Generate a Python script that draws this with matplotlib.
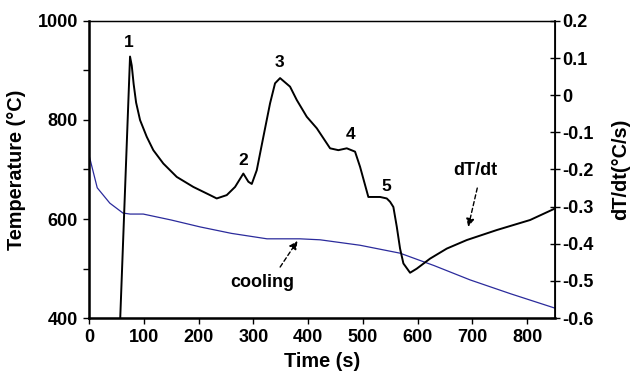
import matplotlib.pyplot as plt
import numpy as np

plt.rcParams['font.family'] = ['Liberation Sans', 'DejaVu Sans']
plt.rcParams['font.weight'] = 'bold'

# cooling curve (left axis)
cool_t = [0, 15, 38, 62, 75, 99, 150, 203, 260, 325, 385, 422, 495, 568, 630, 696, 770, 851]
cool_T = [729, 663, 632, 612, 610, 610, 598, 584, 571, 560, 560, 558, 547, 531, 506, 477, 449, 420]

# derivative curve (right axis)
rate_t = [50, 57, 74.9, 78.0, 81.5, 86.0, 93.2, 105.4, 117.4, 135.7, 160.2, 190.5, 221.0, 233.2,
          251.5, 266.7, 281.8, 291.0, 297.2, 306.3, 318.4, 330.6, 339.7, 348.9, 367.1, 379.4,
          397.6, 415.9, 440.2, 455.3, 470.7, 485.8, 495.0, 510.1, 531.5, 543.7, 549.8, 555.8,
          562.0, 568.0, 574.1, 586.3, 598.5, 622.8, 653.3, 689.8, 744.7, 805.5, 851]
rate_v = [-0.79, -0.60, 0.104, 0.080, 0.030, -0.020, -0.067, -0.112, -0.148, -0.184, -0.220,
          -0.247, -0.269, -0.278, -0.269, -0.247, -0.211, -0.233, -0.239, -0.202, -0.112, -0.022,
          0.032, 0.046, 0.023, -0.013, -0.058, -0.089, -0.143, -0.148, -0.143, -0.152, -0.193,
          -0.274, -0.274, -0.278, -0.287, -0.301, -0.354, -0.413, -0.453, -0.478, -0.467, -0.440,
          -0.413, -0.390, -0.363, -0.336, -0.305]

peak_labels = ['1', '2', '3', '4', '5']
peak_t = [73, 281, 347, 478, 543]
peak_v = [0.142, -0.175, 0.087, -0.107, -0.247]

fig = plt.figure(figsize=(6.3, 3.8), dpi=100)
ax = fig.add_axes([0.1413, 0.163, 0.7397, 0.782])
ax2 = ax.twinx()

ax.plot(cool_t, cool_T, color='#2b2b9c', lw=0.9)
ax2.plot(rate_t, rate_v, color='black', lw=1.4)

ax.set_xlim(0, 851)
ax.set_ylim(400, 1000)
ax2.set_ylim(-0.6, 0.2)

ax.set_xticks(np.arange(0, 801, 100))
ax.set_yticks(np.arange(400, 1001, 200))
ax.set_yticks(np.arange(500, 1000, 200), minor=True)
ax2.set_yticks(np.round(np.arange(-0.6, 0.21, 0.1), 1))
ax2.set_yticklabels(['-0.6', '-0.5', '-0.4', '-0.3', '-0.2', '-0.1', '0', '0.1', '0.2'])

ax.tick_params(axis='both', which='both', direction='out', length=4, width=1,
               labelsize=13, pad=4)
ax2.tick_params(axis='y', direction='inout', length=7, width=1, labelsize=13, pad=2)

for lab in ax.get_xticklabels() + ax.get_yticklabels() + ax2.get_yticklabels():
    lab.set_fontweight('bold')

ax.spines['left'].set_linewidth(1.8)
ax.spines['bottom'].set_linewidth(1.8)
ax.spines['top'].set_linewidth(0.9)
ax2.spines['right'].set_linewidth(1.3)
ax2.spines['top'].set_linewidth(0.9)

ax.set_xlabel('Time (s)', fontsize=14.3, fontweight='bold', labelpad=4)
ax.set_ylabel('Temperature (°C)', fontsize=14.3, fontweight='bold', labelpad=8)
ax2.set_ylabel('dT/dt(°C/s)', fontsize=14.3, fontweight='bold', labelpad=12)

for lab, t, v in zip(peak_labels, peak_t, peak_v):
    ax2.text(t, v, lab, fontsize=12.5, fontweight='bold', ha='center', va='center')

arrow = dict(arrowstyle='-|>', linestyle=(0, (3, 2)), color='black',
             lw=1, shrinkA=0, shrinkB=1, mutation_scale=12)
ax.text(316, 471, 'cooling', fontsize=13, fontweight='bold', ha='center', va='center')
ax.annotate('', xy=(382, 558), xytext=(349, 503), arrowprops=arrow)
ax2.text(705, -0.202, 'dT/dt', fontsize=13, fontweight='bold', ha='center', va='center')
ax2.annotate('', xy=(692, -0.358), xytext=(709, -0.25), arrowprops=arrow)

fig.savefig('out.png', dpi=100)
